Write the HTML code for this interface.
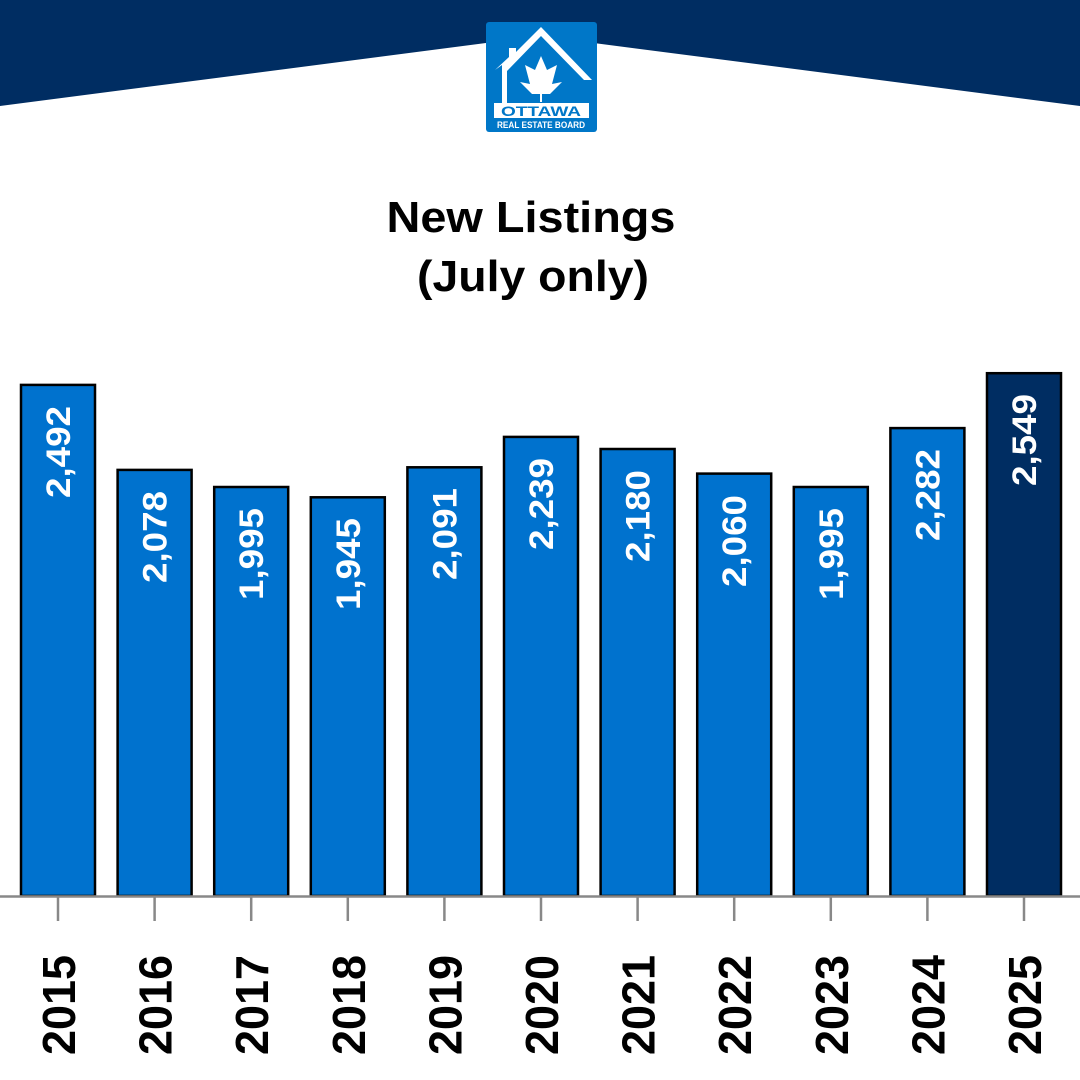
<!DOCTYPE html>
<html><head><meta charset="utf-8"><style>html,body{margin:0;padding:0;background:#fff}svg{display:block}</style></head><body>
<svg width="1080" height="1080" viewBox="0 0 1080 1080" xmlns="http://www.w3.org/2000/svg" font-family="Liberation Sans, sans-serif">
<rect width="1080" height="1080" fill="#fff"/>
<polygon points="0,0 1080,0 1080,106 540,36 0,106" fill="#002D62"/>
<rect x="486" y="22" width="111" height="110" rx="3" fill="#0077C8"/>
<polygon points="541,27 592,80 584,80 541,36 507,71 507,103 502,103 502,65 495,70 509,57 509,48 516,48 516,52" fill="#fff"/>
<polygon points="541,56 547,70 557,65 552,84 562,82 550,94 542,94 542,102 540,102 540,94 532,94 520,82 530,84 525,65 535,70" fill="#fff"/>
<rect x="494" y="103" width="95" height="15" fill="#fff"/>
<text x="541" y="116" text-anchor="middle" font-size="14" font-weight="bold" fill="#0077C8" textLength="80" lengthAdjust="spacingAndGlyphs">OTTAWA</text>
<text x="541" y="128" text-anchor="middle" font-size="9" font-weight="bold" fill="#fff" textLength="88" lengthAdjust="spacingAndGlyphs">REAL ESTATE BOARD</text>
<text x="531" y="232" text-anchor="middle" font-size="44" font-weight="bold" fill="#000" textLength="289" lengthAdjust="spacingAndGlyphs">New Listings</text>
<text x="533" y="291" text-anchor="middle" font-size="44" font-weight="bold" fill="#000" textLength="232" lengthAdjust="spacingAndGlyphs">(July only)</text>
<g stroke="#000" stroke-width="2.5">
<rect x="21" y="384.9" width="74" height="511.1" fill="#0072CE"/>
<rect x="117.6" y="469.9" width="74" height="426.1" fill="#0072CE"/>
<rect x="214.2" y="487" width="74" height="409" fill="#0072CE"/>
<rect x="310.8" y="497.3" width="74" height="398.7" fill="#0072CE"/>
<rect x="407.4" y="467.3" width="74" height="428.7" fill="#0072CE"/>
<rect x="504" y="436.9" width="74" height="459.1" fill="#0072CE"/>
<rect x="600.6" y="449" width="74" height="447" fill="#0072CE"/>
<rect x="697.2" y="473.6" width="74" height="422.4" fill="#0072CE"/>
<rect x="793.8" y="487" width="74" height="409" fill="#0072CE"/>
<rect x="890.4" y="428.1" width="74" height="467.9" fill="#0072CE"/>
<rect x="987" y="373.2" width="74" height="522.8" fill="#002D62"/>
</g>
<line x1="0" y1="896.5" x2="1080" y2="896.5" stroke="#888" stroke-width="2.5"/>
<g stroke="#888" stroke-width="2.5">
<line x1="58" y1="897" x2="58" y2="921"/><line x1="154.6" y1="897" x2="154.6" y2="921"/><line x1="251.2" y1="897" x2="251.2" y2="921"/><line x1="347.8" y1="897" x2="347.8" y2="921"/><line x1="444.4" y1="897" x2="444.4" y2="921"/><line x1="541" y1="897" x2="541" y2="921"/><line x1="637.6" y1="897" x2="637.6" y2="921"/><line x1="734.2" y1="897" x2="734.2" y2="921"/><line x1="830.8" y1="897" x2="830.8" y2="921"/><line x1="927.4" y1="897" x2="927.4" y2="921"/><line x1="1024" y1="897" x2="1024" y2="921"/>
</g>
<g fill="#fff" font-size="34" font-weight="bold" text-anchor="end">
<text transform="translate(70,406) rotate(-90)" textLength="92" lengthAdjust="spacingAndGlyphs">2,492</text>
<text transform="translate(166.6,491) rotate(-90)" textLength="92" lengthAdjust="spacingAndGlyphs">2,078</text>
<text transform="translate(263.2,508) rotate(-90)" textLength="92" lengthAdjust="spacingAndGlyphs">1,995</text>
<text transform="translate(359.8,518) rotate(-90)" textLength="92" lengthAdjust="spacingAndGlyphs">1,945</text>
<text transform="translate(456.4,488) rotate(-90)" textLength="92" lengthAdjust="spacingAndGlyphs">2,091</text>
<text transform="translate(553,458) rotate(-90)" textLength="92" lengthAdjust="spacingAndGlyphs">2,239</text>
<text transform="translate(649.6,470) rotate(-90)" textLength="92" lengthAdjust="spacingAndGlyphs">2,180</text>
<text transform="translate(746.2,495) rotate(-90)" textLength="92" lengthAdjust="spacingAndGlyphs">2,060</text>
<text transform="translate(842.8,508) rotate(-90)" textLength="92" lengthAdjust="spacingAndGlyphs">1,995</text>
<text transform="translate(939.4,449) rotate(-90)" textLength="92" lengthAdjust="spacingAndGlyphs">2,282</text>
<text transform="translate(1036,394) rotate(-90)" textLength="92" lengthAdjust="spacingAndGlyphs">2,549</text>
</g>
<g fill="#000" font-size="46" font-weight="bold" text-anchor="end">
<text transform="translate(75,955) rotate(-90)" textLength="100" lengthAdjust="spacingAndGlyphs">2015</text>
<text transform="translate(171.6,955) rotate(-90)" textLength="100" lengthAdjust="spacingAndGlyphs">2016</text>
<text transform="translate(268.2,955) rotate(-90)" textLength="100" lengthAdjust="spacingAndGlyphs">2017</text>
<text transform="translate(364.8,955) rotate(-90)" textLength="100" lengthAdjust="spacingAndGlyphs">2018</text>
<text transform="translate(461.4,955) rotate(-90)" textLength="100" lengthAdjust="spacingAndGlyphs">2019</text>
<text transform="translate(558,955) rotate(-90)" textLength="100" lengthAdjust="spacingAndGlyphs">2020</text>
<text transform="translate(654.6,955) rotate(-90)" textLength="100" lengthAdjust="spacingAndGlyphs">2021</text>
<text transform="translate(751.2,955) rotate(-90)" textLength="100" lengthAdjust="spacingAndGlyphs">2022</text>
<text transform="translate(847.8,955) rotate(-90)" textLength="100" lengthAdjust="spacingAndGlyphs">2023</text>
<text transform="translate(944.4,955) rotate(-90)" textLength="100" lengthAdjust="spacingAndGlyphs">2024</text>
<text transform="translate(1041,955) rotate(-90)" textLength="100" lengthAdjust="spacingAndGlyphs">2025</text>
</g>
</svg>
</body></html>
